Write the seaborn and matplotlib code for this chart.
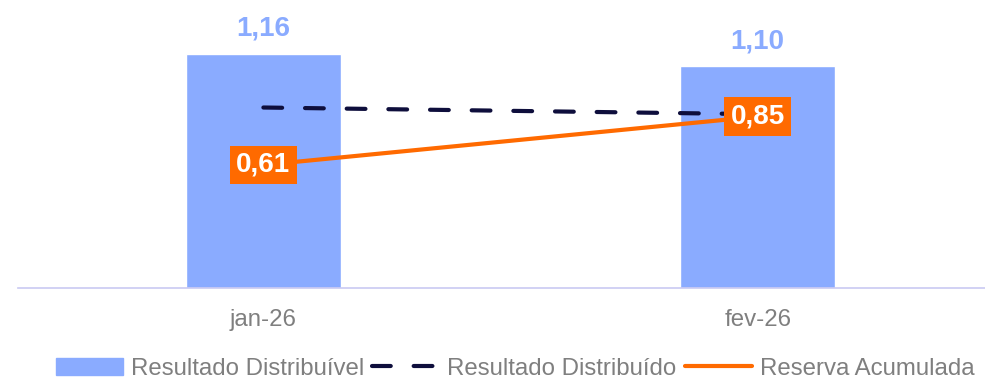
import numpy as np
import pandas as pd
import seaborn as sns
import matplotlib.pyplot as plt
from matplotlib.lines import Line2D
from matplotlib.patches import Patch

# Dados do gráfico
meses = ['jan-26', 'fev-26']
resultado_distribuivel = [1.16, 1.10]
resultado_distribuido = [0.895, 0.862]
reserva_acumulada = [0.61, 0.85]

cor_barra = '#8AABFF'
cor_tracejado = '#0E0E3C'
cor_reserva = '#FF6A00'
cor_texto = '#7F7F7F'

sns.set_style('white')
plt.rcParams['font.family'] = ['Liberation Sans', 'DejaVu Sans']

fig = plt.figure(figsize=(9.85, 3.78), dpi=100)
ax = fig.add_axes([0.018, 0.238, 0.982, 0.762])

df = pd.DataFrame({'mes': meses, 'valor': resultado_distribuivel})
sns.barplot(data=df, x='mes', y='valor', color=cor_barra, width=0.314,
            saturation=1, ax=ax, zorder=1)

tracejado = (0, (4.5, 5.5))
x = np.arange(len(meses))
ax.plot(x, resultado_distribuido, color=cor_tracejado, lw=3, ls=tracejado,
        dash_capstyle='round', zorder=2)
ax.plot(x, reserva_acumulada, color=cor_reserva, lw=3, zorder=3)

# rótulos das barras
for i, v in enumerate(resultado_distribuivel):
    ax.text(i, v + 0.06, f'{v:.2f}'.replace('.', ','), ha='center', va='bottom',
            fontsize=20, fontweight='bold', color=cor_barra)

# rótulos da reserva
for i, v in enumerate(reserva_acumulada):
    ax.text(i, v, f'{v:.2f}'.replace('.', ','), ha='center', va='center',
            fontsize=20, fontweight='bold', color='white', zorder=5,
            bbox=dict(boxstyle='square,pad=0.22', fc=cor_reserva, ec='none'))

ax.set_xlim(-0.497, 1.46)
ax.set_ylim(0, 1.428)
ax.set_xlabel('')
ax.set_ylabel('')
ax.set_yticks([])
for s in ['left', 'right', 'top']:
    ax.spines[s].set_visible(False)
ax.spines['bottom'].set_color('#C9C9F2')
ax.spines['bottom'].set_linewidth(1.2)
ax.tick_params(axis='x', length=0, labelsize=17.3, labelcolor=cor_texto, pad=15)

handles = [
    Patch(color=cor_barra, label='Resultado Distribuível'),
    Line2D([], [], color=cor_tracejado, lw=3, ls=tracejado,
           dash_capstyle='round', label='Resultado Distribuído'),
    Line2D([], [], color=cor_reserva, lw=3, label='Reserva Acumulada'),
]
leg = fig.legend(handles=handles, loc='lower center', bbox_to_anchor=(0.523, -0.062),
                 ncol=3, frameon=False, fontsize=17.3, handlelength=2.8,
                 handletextpad=0.33, columnspacing=0.33)
for t in leg.get_texts():
    t.set_color(cor_texto)

fig.savefig('out.png', dpi=100)
